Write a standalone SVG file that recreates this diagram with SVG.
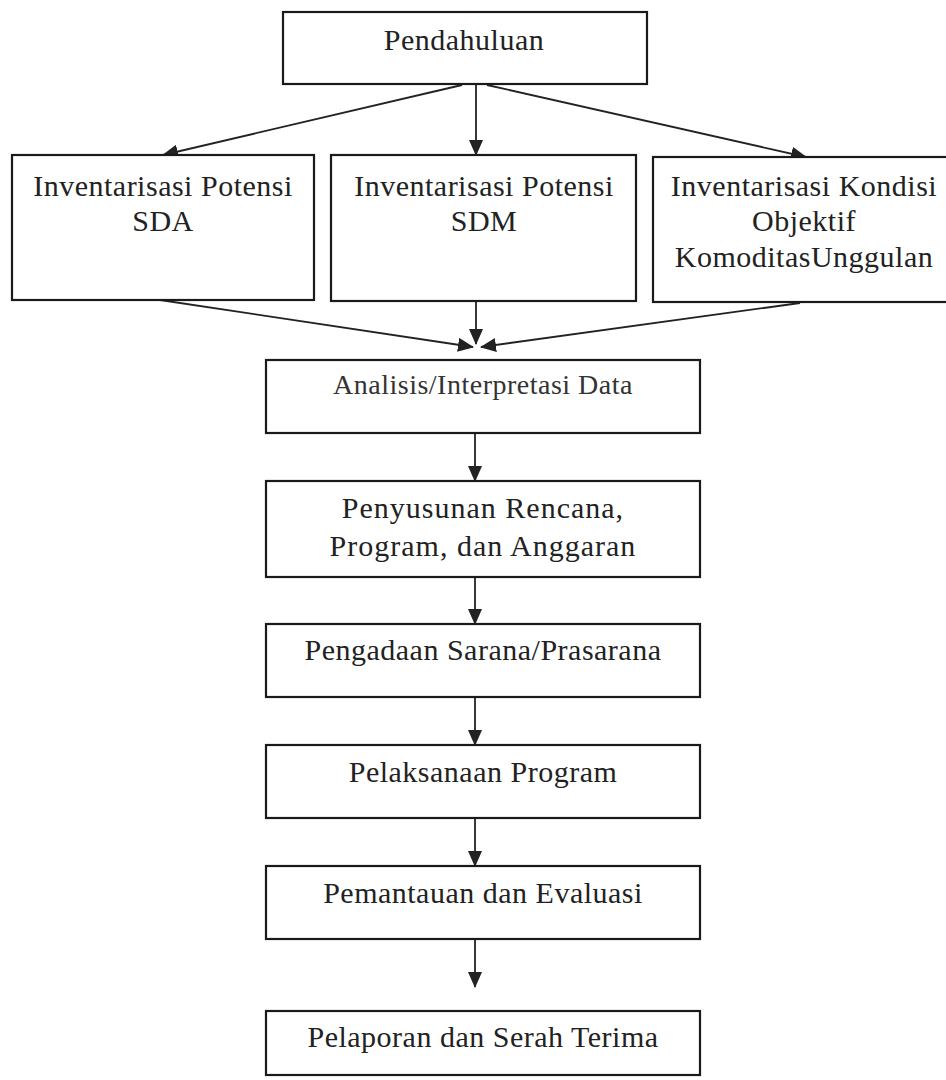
<svg xmlns="http://www.w3.org/2000/svg" width="946" height="1080" viewBox="0 0 946 1080">
<style>
  .box { fill: #ffffff; stroke: #1a1a1a; stroke-width: 2.2; }
  .lbl { font-family: "Liberation Serif", "Times New Roman", serif; font-size: 30px; fill: #222222; text-anchor: middle; letter-spacing: 0.5px; }
  .small { font-size: 28px; fill: #333333; }
  .wide { letter-spacing: 1px; }
  .conn { stroke: #222222; stroke-width: 1.8; fill: none; marker-end: url(#arrow); }
</style>
<defs>
  <marker id="arrow" markerUnits="userSpaceOnUse" markerWidth="16" markerHeight="14" viewBox="0 0 16 14" refX="15" refY="7" orient="auto">
    <path d="M0,0 L16,7 L0,14 Z" fill="#222222"/>
  </marker>
</defs>
<rect width="946" height="1080" fill="#ffffff"/>

<g id="connectors">
  <line class="conn" x1="462" y1="85" x2="163" y2="155"/>
  <line class="conn" x1="476" y1="84" x2="476" y2="155"/>
  <line class="conn" x1="487" y1="85" x2="806" y2="157"/>
  <line class="conn" x1="160" y1="300" x2="473" y2="347"/>
  <line class="conn" x1="476" y1="301" x2="476" y2="344"/>
  <line class="conn" x1="800" y1="303" x2="481" y2="347"/>
  <line class="conn" x1="475" y1="433" x2="475" y2="481"/>
  <line class="conn" x1="475" y1="577" x2="475" y2="624"/>
  <line class="conn" x1="475" y1="697" x2="475" y2="745"/>
  <line class="conn" x1="475" y1="818" x2="475" y2="866"/>
  <line class="conn" x1="475" y1="939" x2="475" y2="987"/>
</g>

<g id="pendahuluan">
  <rect class="box" x="283" y="12" width="364" height="72"/>
  <text class="lbl" x="464" y="50">Pendahuluan</text>
</g>
<g id="sda">
  <rect class="box" x="12" y="155" width="302" height="145"/>
  <text class="lbl" x="163" y="196">Inventarisasi Potensi</text>
  <text class="lbl" x="163" y="231">SDA</text>
</g>
<g id="sdm">
  <rect class="box" x="331" y="155" width="305" height="146"/>
  <text class="lbl" x="484" y="196">Inventarisasi Potensi</text>
  <text class="lbl" x="484" y="231">SDM</text>
</g>
<g id="komoditas">
  <rect class="box" x="653" y="157" width="305" height="145"/>
  <text class="lbl" x="804" y="196">Inventarisasi Kondisi</text>
  <text class="lbl" x="804" y="231">Objektif</text>
  <text class="lbl" x="804" y="267">KomoditasUnggulan</text>
</g>
<g id="analisis">
  <rect class="box" x="266" y="360" width="434" height="73"/>
  <text class="lbl small" x="483" y="394">Analisis/Interpretasi Data</text>
</g>
<g id="penyusunan">
  <rect class="box" x="266" y="481" width="434" height="96"/>
  <text class="lbl wide" x="483" y="518">Penyusunan Rencana,</text>
  <text class="lbl wide" x="483" y="556">Program, dan Anggaran</text>
</g>
<g id="pengadaan">
  <rect class="box" x="266" y="624" width="434" height="73"/>
  <text class="lbl" x="483" y="660">Pengadaan Sarana/Prasarana</text>
</g>
<g id="pelaksanaan">
  <rect class="box" x="266" y="745" width="434" height="73"/>
  <text class="lbl" x="483" y="782">Pelaksanaan Program</text>
</g>
<g id="pemantauan">
  <rect class="box" x="266" y="866" width="434" height="73"/>
  <text class="lbl" x="483" y="903">Pemantauan dan Evaluasi</text>
</g>
<g id="pelaporan">
  <rect class="box" x="266" y="1011" width="434" height="64"/>
  <text class="lbl" x="483" y="1047">Pelaporan dan Serah Terima</text>
</g>
</svg>
